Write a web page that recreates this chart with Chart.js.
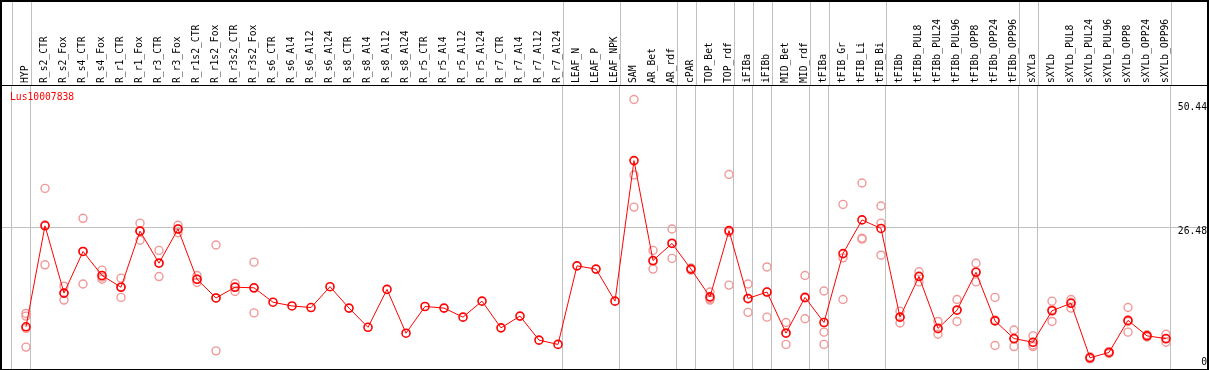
<!DOCTYPE html>
<html>
<head>
<meta charset="utf-8">
<title>Lus10007838</title>
<script src="https://cdn.jsdelivr.net/npm/chart.js@4.4.1/dist/chart.umd.min.js"></script>
<style>
  html, body { margin: 0; padding: 0; background: #fff; }
  canvas { display: block; }
</style>
</head>
<body>
<canvas id="chart" width="1209" height="370"></canvas>
<script>
// ======================
// 데이터
// ======================
const geneName = "Lus10007838";

const categories = [
  "HYP", "R_s2_CTR", "R_s2_Fox", "R_s4_CTR", "R_s4_Fox", "R_r1_CTR", "R_r1_Fox",
  "R_r3_CTR", "R_r3_Fox", "R_r1s2_CTR", "R_r1s2_Fox", "R_r3s2_CTR", "R_r3s2_Fox",
  "R_s6_CTR", "R_s6_Al4", "R_s6_Al12", "R_s6_Al24", "R_s8_CTR", "R_s8_Al4",
  "R_s8_Al12", "R_s8_Al24", "R_r5_CTR", "R_r5_Al4", "R_r5_Al12", "R_r5_Al24",
  "R_r7_CTR", "R_r7_Al4", "R_r7_Al12", "R_r7_Al24", "LEAF_N", "LEAF_P", "LEAF_NPK",
  "SAM", "AR_Bet", "AR_rdf", "cPAR", "TOP_Bet", "TOP_rdf", "iFIBa", "iFIBb",
  "MID_Bet", "MID_rdf", "tFIBa", "tFIB_Gr", "tFIB_Li", "tFIB_Bi", "tFIBb",
  "tFIBb_PUL8", "tFIBb_PUL24", "tFIBb_PUL96", "tFIBb_OPP8", "tFIBb_OPP24", "tFIBb_OPP96",
  "sXYLa", "sXYLb", "sXYLb_PUL8", "sXYLb_PUL24", "sXYLb_PUL96", "sXYLb_OPP8",
  "sXYLb_OPP24", "sXYLb_OPP96"
];

// 평균값 (빨간 선)
const means = [
  7.9, 26.8, 14.2, 22.0, 17.5, 15.3, 25.8, 19.8, 26.2, 16.8, 13.3, 15.3, 15.2,
  12.5, 11.8, 11.5, 15.4, 11.4, 7.8, 14.9, 6.7, 11.7, 11.4, 9.7, 12.7,
  7.7, 9.9, 5.4, 4.6, 19.3, 18.7, 12.7,
  39.0, 20.3, 23.5, 18.7, 13.5, 25.9, 13.2, 14.4, 6.7, 13.4, 8.7, 21.6, 27.9, 26.3,
  9.7, 17.3, 7.6, 11.0, 18.1, 9.0, 5.7,
  5.0, 10.9, 12.3, 2.1, 3.1, 9.1, 6.2, 5.7
];

// 반복 측정값 (연한 원)
const replicates = [
  [10.4, 9.9, 7.6, 4.1], [33.8, 27.0, 19.5], [15.5, 14.2, 12.9], [28.2, 22.0, 15.9],
  [18.5, 17.2, 16.8], [17.0, 15.4, 13.4], [27.3, 25.9, 24.1], [22.2, 19.9, 17.3],
  [26.9, 26.2, 25.5], [17.5, 16.8, 16.2], [23.2, 13.3, 3.4], [16.0, 15.4, 14.5],
  [20.0, 15.1, 10.5],
  [], [], [], [], [], [], [], [], [], [], [], [], [], [], [], [],
  [], [], [],
  [50.44, 36.3, 30.3], [22.2, 20.1, 18.7], [26.2, 23.6, 20.7], [18.9, 18.7, 18.5],
  [14.4, 13.2, 12.9], [36.4, 25.6, 15.7], [15.9, 13.1, 10.6], [19.1, 14.4, 9.7],
  [8.7, 6.8, 4.6], [17.5, 13.3, 9.4], [14.6, 6.9, 4.6], [30.8, 20.8, 13.0],
  [34.8, 24.5, 24.3], [30.5, 27.3, 21.3],
  [10.8, 9.7, 8.6], [18.2, 17.4, 16.3], [8.9, 7.5, 6.5], [13.0, 11.1, 8.9],
  [19.8, 18.2, 16.3], [13.4, 9.2, 4.4], [7.3, 5.6, 4.2],
  [6.2, 4.5, 4.2], [12.7, 11.1, 8.9], [13.0, 12.5, 11.4], [2.3, 2.1, 1.9],
  [3.3, 3.1, 2.9], [11.5, 8.9, 6.9], [6.4, 6.2, 6.0], [6.5, 5.6, 5.0]
];

// 그룹 경계 (이 인덱스 뒤에 회색 세로선)
const groupEnds = [-1, 0, 28, 31, 34, 35, 37, 38, 39, 41, 42, 45, 52, 53, 60];

// y축 눈금
const yTicks = [0, 26.48, 50.44];

// ======================
// 스타일
// ======================
const FONT = "'DejaVu Sans Mono', 'Liberation Mono', monospace";
const FONT_SIZE = 9.7;
const X_MIN = -1.316;
const X_MAX = 62.158;
const Y_MAX = 53.15;

const meanPoints = means.map((v, i) => ({ x: i, y: v }));
const repPoints = [];
replicates.forEach((arr, i) => arr.forEach(v => repPoints.push({ x: i, y: v })));

// 축 여백 없애기
function noPad(s) {
  s.paddingLeft = 0;
  s.paddingRight = 0;
  s.paddingTop = 0;
  s.paddingBottom = 0;
}

// ======================
// 플러그인 (테두리, 제목, 라벨 영역 세로선)
// ======================
const framePlugin = {
  id: "frame",
  beforeDatasetsDraw(chart) {
    const { ctx, chartArea, scales } = chart;
    ctx.save();
    ctx.strokeStyle = "#c0c0c0";
    ctx.lineWidth = 1;
    scales.x.ticks.forEach(t => {
      const px = Math.round(scales.x.getPixelForValue(t.value)) + 0.5;
      ctx.beginPath();
      ctx.moveTo(px, 0);
      ctx.lineTo(px, chartArea.top);
      ctx.stroke();
    });
    ctx.restore();
  },
  afterDraw(chart) {
    const { ctx, chartArea, width, height } = chart;
    ctx.save();
    ctx.fillStyle = "#000";
    ctx.fillRect(0, 0, width, 2);                   // 위
    ctx.fillRect(0, 0, 2, height);                  // 왼쪽
    ctx.fillRect(chartArea.right, 0, 2, height);    // 오른쪽
    ctx.fillRect(0, height - 1, width, 1);          // 아래
    ctx.fillRect(0, chartArea.top, width, 1);       // 라벨 아래
    ctx.fillStyle = "#ff0000";
    ctx.font = FONT_SIZE + "px " + FONT;
    ctx.textBaseline = "middle";
    ctx.fillText(geneName, chartArea.left + 9, chartArea.top + 12);
    ctx.restore();
  }
};

// ======================
// 차트
// ======================
new Chart(document.getElementById("chart"), {
  type: "scatter",
  data: {
    datasets: [
      {
        label: "mean",
        data: meanPoints,
        showLine: true,
        borderColor: "#ff0000",
        borderWidth: 1,
        pointRadius: 4,
        pointBorderWidth: 1.6,
        pointBorderColor: "#ff0000",
        pointBackgroundColor: "rgba(0,0,0,0)"
      },
      {
        label: "replicates",
        data: repPoints,
        showLine: false,
        pointRadius: 4,
        pointBorderWidth: 1.4,
        pointBorderColor: "#f09898",
        pointBackgroundColor: "rgba(0,0,0,0)"
      }
    ]
  },
  options: {
    responsive: false,
    animation: false,
    layout: { autoPadding: false, padding: { left: 1, right: 2, top: 0, bottom: 0 } },
    plugins: { legend: { display: false }, tooltip: { enabled: false } },
    scales: {
      x: {
        type: "linear",
        position: "bottom",
        min: X_MIN,
        max: X_MAX,
        afterBuildTicks: s => { s.ticks = groupEnds.map(g => ({ value: g + 0.25 })); },
        afterFit: s => { s.height = 1; noPad(s); },
        ticks: { display: false },
        grid: { color: "#c0c0c0", lineWidth: 1, drawTicks: false },
        border: { display: false }
      },
      x2: {
        type: "linear",
        axis: "x",
        position: "top",
        min: X_MIN,
        max: X_MAX,
        afterBuildTicks: s => { s.ticks = categories.map((c, i) => ({ value: i })); },
        afterFit: s => { s.height = 85; noPad(s); },
        ticks: {
          autoSkip: false,
          minRotation: 90,
          maxRotation: 90,
          padding: 2,
          labelOffset: 11.5,
          color: "#000",
          font: { family: FONT, size: FONT_SIZE },
          callback: v => categories[v]
        },
        grid: { display: false, drawTicks: false },
        border: { display: false }
      },
      y: {
        type: "linear",
        position: "right",
        min: 0,
        max: Y_MAX,
        afterBuildTicks: s => { s.ticks = yTicks.map(v => ({ value: v })); },
        afterFit: s => { s.width = 0; noPad(s); },
        ticks: {
          mirror: true,
          padding: 0,
          color: "#000",
          font: ctx => ({
            family: FONT,
            size: FONT_SIZE,
            lineHeight: ctx.tick && ctx.tick.value === 50.44 ? "16px" : (ctx.tick && ctx.tick.value === 0 ? "14px" : "7px")
          }),
          callback: v => (v === 0 ? ["0", ""] : ["", String(v)])
        },
        grid: {
          drawTicks: false,
          color: ctx => (ctx.tick && ctx.tick.value === 26.48 ? "#c0c0c0" : "rgba(0,0,0,0)")
        },
        border: { display: false }
      }
    }
  },
  plugins: [framePlugin]
});
</script>
</body>
</html>
